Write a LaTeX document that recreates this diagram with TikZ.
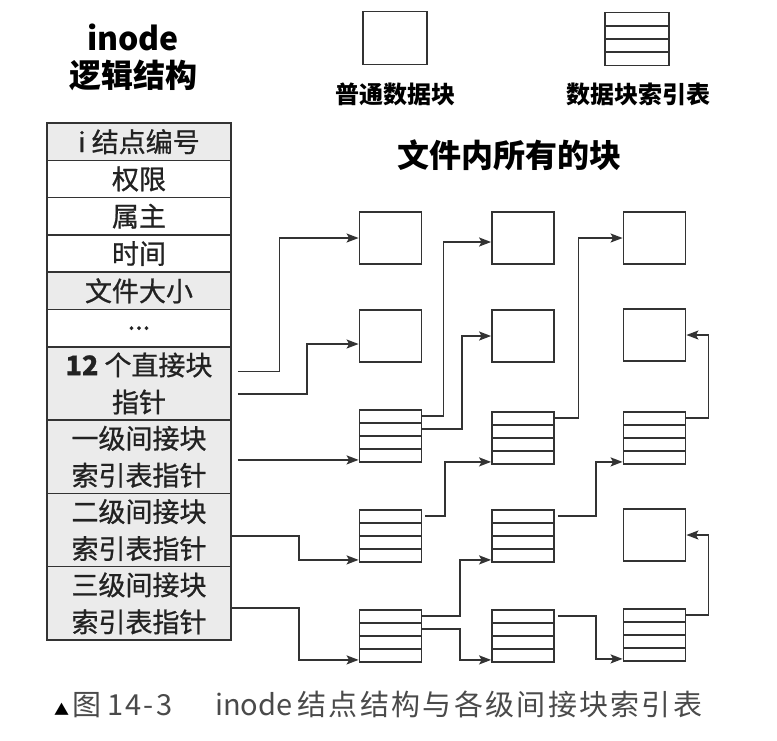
\documentclass[tikz,border=0pt]{standalone}
\usepackage{fontspec}
\setmainfont{Noto Sans CJK SC}
\usetikzlibrary{arrows.meta,calc}
\definecolor{ln}{HTML}{333333}
\definecolor{cellgray}{HTML}{EBEBEB}
\definecolor{txt}{HTML}{222222}
\definecolor{capc}{HTML}{4A4A4A}
\newcommand\tabfnt{\fontsize{27}{37}\selectfont\addfontfeature{FakeBold=0.8}}
\newcommand\ttlfnt{\fontsize{32}{38}\selectfont\bfseries}
\newcommand\legfnt{\fontsize{24}{28}\selectfont\bfseries}
\newcommand\capfnt{\fontsize{29}{34}\selectfont}
\tikzset{
 blk/.style={draw=ln, line width=1.8pt, minimum width=62pt, minimum height=52pt, inner sep=0pt},
 idx/.style={blk, path picture={\foreach \k in {1,2,3}{\draw[ln,line width=1.8pt] ($(path picture bounding box.north west)!\k/4!(path picture bounding box.south west)$) -- ($(path picture bounding box.north east)!\k/4!(path picture bounding box.south east)$);}}},
 cell/.style={draw=ln, line width=1.5pt, minimum width=184pt, minimum height=37.3pt, inner sep=0pt, align=center, font=\tabfnt, text=txt},
 dcell/.style={cell, minimum height=73.3pt},
 gcell/.style={fill=cellgray},
 arr/.style={draw=ln, line width=1.6pt, -{Stealth[length=12pt,width=9pt,inset=2.5pt]}},
}
\begin{document}
\begin{tikzpicture}[x=1pt,y=-1pt]
\useasboundingbox (0,0) rectangle (777,740);
\fill[white] (0,0) rectangle (777,740);
% titles
\node[anchor=base, font=\ttlfnt] (ti1) at (133,50) {inode};
\node[anchor=base, font=\ttlfnt] (ti2) at (133,87) {逻辑结构};
% legend
\node[blk, minimum width=64pt, minimum height=53pt] (lgA) at (394.7,38) {};
\node[idx, minimum width=64pt, minimum height=53pt] (lgB) at (637,39) {};
\node[anchor=base, font=\legfnt] (lgAt) at (395,103.5) {普通数据块};
\node[anchor=base, font=\legfnt] (lgBt) at (638,103.5) {数据块索引表};
\node[anchor=base, font=\fontsize{32}{36}\selectfont\bfseries] (hd) at (509,167) {文件内所有的块};
% inode table
\node[cell, gcell] (r1) at (139,141.65) {i 结点编号};
\node[cell] (r2) at (139,178.95) {权限};
\node[cell] (r3) at (139,216.25) {属主};
\node[cell] (r4) at (139,253.55) {时间};
\node[cell, gcell] (r5) at (139,290.85) {文件大小};
\node[cell] (r6) at (139,328.15) {...};
\node[dcell, gcell] (r7) at (139,383.45) {\textbf{12} 个直接块\\指针};
\node[dcell, gcell] (r8) at (139,456.75) {一级间接块\\索引表指针};
\node[dcell, gcell] (r9) at (139,530.05) {二级间接块\\索引表指针};
\node[dcell, gcell] (r10) at (139,603.35) {三级间接块\\索引表指针};
% blocks
\node[blk] (b11) at (390.5,238) {};
\node[blk] (b12) at (523,238) {};
\node[blk] (b13) at (654.5,238) {};
\node[blk] (b21) at (390.5,336) {};
\node[blk] (b22) at (523,336) {};
\node[blk] (b23) at (654.5,335) {};
\node[idx] (t31) at (390.5,436) {};
\node[idx] (t32) at (523,438) {};
\node[idx] (t33) at (654.5,438) {};
\node[idx] (t41) at (390.5,536) {};
\node[idx] (t42) at (523,536) {};
\node[blk] (b43) at (654.5,535) {};
\node[idx] (t51) at (390.5,636) {};
\node[idx] (t52) at (523,636) {};
\node[idx] (t53) at (654.5,635) {};
% helper coordinates
\coordinate (o7a) at ([shift={(6,-12)}]r7.east);
\coordinate (o7b) at ([shift={(6,10.5)}]r7.east);
\coordinate (o8) at ([shift={(6,0)}]r8.east);
\coordinate (o9) at ([shift={(0,6)}]r9.east);
\coordinate (o10) at ([shift={(0,4.5)}]r10.east);
\coordinate (t31in) at ([shift={(0,-3)}]t31.south west);
\coordinate (t32in) at ([shift={(0,-3)}]t32.south west);
\coordinate (t33in) at ([shift={(0,-3)}]t33.south west);
\coordinate (t41in) at ([shift={(0,-3)}]t41.south west);
\coordinate (t42in) at ([shift={(0,-3)}]t42.south west);
\coordinate (t51in) at ([shift={(0,-3)}]t51.south west);
\coordinate (t52in) at ([shift={(0,-3)}]t52.south west);
\coordinate (t53in) at ([shift={(0,-3)}]t53.south west);
% connectors
\draw[arr] (o7a) -| ([xshift=-79pt]b11.west) -- (b11.west);
\draw[arr] (o7b) -| ([shift={(-51.5,8)}]b21.west) -- ([shift={(0,8)}]b21.west);
\draw[arr] (o8 |- t31in) -- (t31in);
\draw[arr] ([shift={(0,7)}]t31.north east) -| ([shift={(-47.7,4)}]b12.west) -- ([shift={(0,4)}]b12.west);
\draw[arr] ([shift={(0,20)}]t31.north east) -| ([xshift=-29.3pt]b22.west) -- (b22.west);
\draw[arr] ([shift={(0,7)}]t32.north east) -| ([xshift=-44.2pt]b13.west) -- (b13.west);
\draw[arr] ([shift={(0,7)}]t33.north east) -| ([xshift=22pt]b23.east) -- (b23.east);
\draw[arr] (o9) -| ([xshift=-59.5pt]t41in) -- (t41in);
\draw[arr] ([shift={(3,7)}]t41.north east) -| ([xshift=-46.3pt]t32in) -- (t32in);
\draw[arr] ([shift={(3,7)}]t42.north east) -| ([xshift=-26.8pt]t33in) -- (t33in);
\draw[arr] (o10) -| ([xshift=-59.5pt]t51in) -- (t51in);
\draw[arr] ([shift={(0,7)}]t51.north east) -| ([xshift=-31pt]t42in) -- (t42in);
\draw[arr] ([shift={(0,20)}]t51.north east) -| ([xshift=-31pt]t52in) -- (t52in);
\draw[arr] ([shift={(3,7)}]t52.north east) -| ([xshift=-26.8pt]t53in) -- (t53in);
\draw[arr] ([shift={(0,7)}]t53.north east) -| ([xshift=22pt]b43.east) -- (b43.east);
% caption
\node[anchor=base west, text=capc, font=\capfnt, inner sep=0pt] (cap) at (54,715) {\makebox[161pt][l]{{\fontsize{15}{15}\selectfont\color{black}▲}\hspace{3pt}图 {\addfontfeature{LetterSpace=7}14-3}}inode\hspace{5pt}{\addfontfeature{LetterSpace=8}结点结构与各级间接块索引表}};
\end{tikzpicture}
\end{document}
